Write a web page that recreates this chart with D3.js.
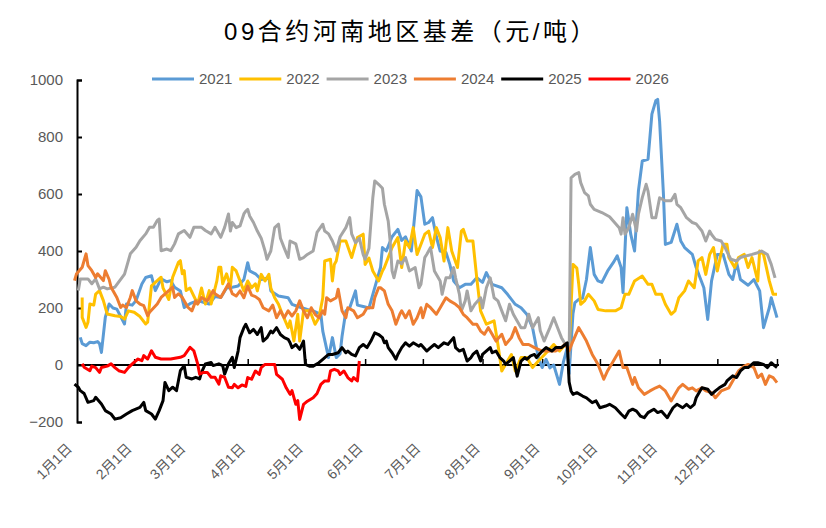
<!DOCTYPE html>
<html>
<head>
<meta charset="utf-8">
<script src="https://cdn.jsdelivr.net/npm/d3@7"></script>
<style>
  body { margin: 0; background: #fff; }
  text { font-family: "Liberation Sans", "Noto Sans CJK SC", sans-serif; }
</style>
</head>
<body>
<div id="chart"></div>
<script>
// day of year (0 = 1月1日), basis (元/吨)
var years = ["2021", "2022", "2023", "2024", "2025", "2026"];
var colors = ["#5B9BD5", "#FFC000", "#A5A5A5", "#ED7D31", "#000000", "#FF0000"];
var monthLabels = ["1月1日", "2月1日", "3月1日", "4月1日", "5月1日", "6月1日",
  "7月1日", "8月1日", "9月1日", "10月1日", "11月1日", "12月1日"];
var monthDays = [0, 31, 59, 90, 120, 151, 181, 212, 243, 273, 304, 334];
var yTicks = [-200, 0, 200, 400, 600, 800, 1000];

var s2021 = [[3,97],[4,75],[6,68],[8,80],[10,78],[12,82],[13,75],[14,44],[16,167],[18,214],[20,200],[22,196],[26,144],[27,214],[30,210],[32,226],[35,284],[37,307],[40,313],[42,261],[45,302],[48,292],[50,296],[52,273],[55,260],[57,202],[60,215],[64,226],[67,220],[70,214],[73,240],[76,237],[79,270],[82,273],[85,277],[88,300],[90,359],[91,330],[94,320],[97,300],[101,306],[102,260],[106,242],[111,236],[113,213],[118,201],[121,195],[124,190],[128,178],[129,119],[132,26],[134,96],[136,26],[138,40],[139,100],[141,190],[143,201],[146,260],[147,210],[150,205],[153,200],[157,295],[159,342],[160,412],[162,400],[165,450],[168,476],[170,437],[172,450],[175,400],[178,612],[180,590],[182,494],[184,500],[186,517],[188,450],[190,400],[193,395],[195,353],[197,295],[200,271],[203,283],[206,283],[209,306],[212,290],[214,324],[217,283],[222,271],[225,248],[229,213],[232,201],[235,178],[238,131],[241,26],[243,-9],[245,20],[247,-10],[249,0],[252,-68],[254,10],[256,60],[257,-30],[259,180],[260,219],[262,230],[264,235],[266,300],[268,412],[270,318],[272,295],[274,290],[277,330],[280,360],[282,383],[284,342],[285,254],[287,552],[289,459],[291,400],[293,611],[295,716],[298,722],[300,880],[302,927],[303,932],[304,856],[306,599],[307,423],[310,430],[313,494],[315,435],[317,412],[321,388],[323,342],[327,271],[329,160],[331,295],[334,388],[337,388],[340,318],[342,300],[344,360],[346,300],[350,280],[353,300],[356,260],[358,131],[361,201],[362,236],[364,190],[365,166]];

var s2022 = [[4,237],[4,167],[6,132],[7,150],[8,214],[10,210],[11,249],[13,261],[15,226],[17,179],[21,173],[24,170],[26,161],[28,190],[31,185],[34,170],[37,144],[38,150],[40,278],[42,290],[45,308],[46,270],[49,230],[51,308],[54,360],[55,366],[56,320],[57,331],[58,261],[60,270],[64,214],[66,270],[68,214],[70,261],[71,214],[74,296],[75,343],[76,343],[77,285],[79,320],[81,275],[82,343],[84,330],[86,295],[88,260],[90,295],[92,271],[94,285],[95,260],[97,318],[99,295],[101,318],[102,270],[104,236],[106,213],[108,178],[111,131],[112,155],[114,84],[116,178],[117,84],[119,190],[122,190],[123,178],[125,143],[127,166],[129,236],[130,365],[133,371],[134,295],[135,353],[136,365],[138,435],[141,435],[144,377],[147,447],[150,459],[151,353],[153,375],[155,330],[158,295],[160,330],[161,342],[163,377],[165,412],[168,447],[170,342],[172,435],[174,412],[176,482],[178,388],[182,459],[184,470],[186,412],[188,482],[190,447],[192,365],[194,482],[196,400],[199,342],[201,470],[202,476],[204,435],[207,435],[209,306],[211,190],[214,143],[218,155],[220,72],[222,-21],[225,14],[227,37],[229,-21],[232,26],[235,26],[238,-9],[241,14],[246,49],[249,72],[252,49],[255,72],[257,60],[259,353],[261,340],[262,283],[263,213],[265,225],[267,248],[270,225],[272,195],[276,190],[281,190],[284,201],[286,248],[288,248],[291,295],[295,312],[298,283],[300,283],[302,248],[305,248],[307,213],[310,178],[312,190],[314,236],[317,260],[319,295],[322,271],[324,365],[326,377],[328,318],[330,388],[332,412],[334,330],[337,424],[339,424],[340,377],[343,342],[345,377],[348,388],[350,342],[352,377],[355,295],[356,400],[358,388],[361,295],[363,248],[365,248]];

var s2023 = [[2,261],[3,302],[7,302],[9,285],[11,302],[13,267],[15,273],[17,267],[21,273],[26,319],[29,390],[32,413],[34,436],[37,460],[39,483],[41,483],[43,507],[44,512],[45,401],[48,407],[50,401],[52,425],[54,460],[57,472],[60,448],[62,483],[66,483],[68,472],[71,460],[73,483],[76,448],[78,483],[80,530],[81,470],[82,500],[84,482],[86,488],[88,530],[89,540],[90,546],[91,523],[93,500],[95,470],[97,445],[99,400],[100,371],[102,400],[104,482],[106,494],[107,445],[109,410],[111,377],[112,435],[115,425],[117,371],[119,377],[121,388],[124,400],[126,465],[129,494],[130,470],[132,460],[134,435],[136,400],[138,450],[141,482],[143,517],[144,460],[146,429],[148,445],[150,387],[151,371],[153,410],[155,587],[156,646],[158,634],[160,620],[161,564],[163,505],[164,435],[165,330],[166,306],[168,365],[170,355],[172,377],[174,330],[177,342],[179,271],[180,283],[182,377],[183,388],[185,412],[187,330],[190,295],[191,248],[193,306],[195,306],[197,342],[198,306],[200,248],[201,190],[203,225],[204,260],[206,190],[208,213],[211,236],[212,200],[214,271],[216,306],[218,236],[220,225],[222,190],[224,155],[226,213],[228,178],[232,131],[234,131],[236,178],[238,131],[241,166],[242,120],[244,84],[247,131],[249,166],[251,131],[253,96],[254,84],[256,61],[257,26],[258,657],[260,669],[262,675],[263,640],[265,605],[267,593],[268,564],[270,546],[274,535],[278,520],[283,482],[284,459],[285,517],[286,459],[288,482],[290,529],[292,470],[293,529],[295,587],[297,634],[298,610],[300,517],[302,517],[303,552],[304,587],[307,576],[310,576],[312,599],[313,564],[315,552],[318,517],[321,500],[323,495],[326,470],[328,435],[330,470],[331,458],[333,441],[336,435],[338,412],[341,371],[344,365],[346,377],[349,383],[352,388],[355,394],[357,400],[360,388],[362,353],[364,306]];

var s2024 = [[0,296],[1,319],[4,343],[6,390],[7,349],[9,331],[11,307],[12,320],[15,296],[16,331],[18,300],[19,273],[22,237],[24,202],[25,210],[27,202],[29,237],[30,261],[32,225],[34,214],[36,208],[38,173],[39,185],[43,214],[45,237],[49,261],[51,273],[52,237],[54,250],[56,237],[59,202],[61,190],[63,225],[64,214],[66,237],[69,225],[72,261],[73,250],[76,237],[79,273],[80,285],[82,250],[84,242],[86,260],[88,236],[90,277],[92,245],[94,240],[96,230],[98,201],[101,190],[103,210],[105,166],[107,190],[109,166],[111,190],[113,172],[115,190],[117,225],[119,190],[121,166],[123,201],[125,178],[127,166],[129,190],[130,178],[131,236],[133,225],[136,236],[137,266],[139,190],[141,166],[142,201],[145,190],[147,166],[150,178],[152,201],[155,201],[156,236],[158,271],[159,271],[161,260],[163,213],[165,190],[167,143],[169,178],[170,190],[172,166],[174,190],[176,143],[178,166],[180,201],[181,166],[183,213],[185,201],[188,178],[190,201],[193,236],[195,225],[198,213],[200,201],[202,178],[204,166],[207,143],[209,143],[211,119],[213,108],[215,131],[217,108],[219,84],[222,108],[224,72],[227,96],[229,131],[231,96],[233,72],[236,72],[239,61],[243,49],[246,49],[250,49],[253,61],[255,73],[257,50],[259,84],[262,131],[264,108],[266,84],[269,37],[271,14],[272,2],[275,-50],[277,-20],[280,14],[283,49],[285,-9],[287,-9],[290,-68],[291,-44],[293,-80],[296,-103],[299,-91],[302,-80],[304,-74],[307,-91],[310,-126],[312,-103],[314,-80],[316,-68],[319,-85],[321,-80],[323,-91],[326,-80],[328,-91],[331,-97],[333,-115],[336,-91],[340,-80],[343,-44],[345,-21],[348,-4],[350,2],[353,-9],[355,-44],[357,-32],[359,-68],[361,-38],[363,-44],[365,-62]];

var s2025 = [[0,-67],[2,-78],[3,-90],[5,-100],[7,-131],[10,-125],[11,-113],[14,-137],[16,-160],[19,-172],[21,-190],[24,-185],[27,-172],[30,-160],[34,-149],[36,-131],[37,-160],[40,-172],[42,-190],[44,-160],[46,-125],[47,-61],[49,-90],[51,-78],[53,-90],[54,-55],[55,-20],[57,-2],[58,-43],[61,-49],[63,-43],[65,-49],[66,-26],[68,4],[71,9],[72,-2],[75,4],[77,-2],[78,-32],[80,4],[82,27],[83,-9],[85,49],[86,96],[88,131],[89,143],[91,113],[93,125],[95,107],[97,131],[98,84],[100,96],[102,119],[103,113],[105,131],[107,107],[109,96],[111,90],[112,78],[113,61],[115,72],[117,55],[119,84],[120,2],[122,-4],[124,-4],[127,8],[129,20],[132,37],[134,37],[137,43],[139,61],[141,43],[142,49],[144,37],[146,32],[148,61],[150,72],[152,61],[154,84],[156,113],[158,107],[160,96],[161,78],[162,84],[163,61],[165,43],[167,20],[168,37],[170,61],[172,78],[174,66],[176,78],[179,66],[180,72],[183,49],[185,61],[187,72],[189,61],[192,78],[194,72],[197,96],[198,61],[200,49],[202,55],[204,14],[206,26],[207,37],[209,49],[211,14],[212,37],[216,61],[217,43],[219,49],[221,26],[223,14],[224,2],[226,14],[228,26],[230,-39],[232,14],[234,26],[235,20],[237,32],[239,37],[240,26],[243,49],[245,61],[248,49],[250,61],[253,61],[255,72],[256,78],[257,-60],[258,-91],[259,-103],[261,-97],[264,-109],[266,-115],[269,-132],[271,-126],[273,-150],[276,-144],[278,-138],[281,-150],[284,-172],[286,-185],[288,-162],[290,-155],[292,-162],[294,-179],[296,-185],[298,-167],[301,-155],[303,-167],[305,-162],[308,-185],[309,-173],[311,-150],[313,-138],[316,-150],[318,-138],[320,-150],[322,-138],[323,-115],[325,-91],[326,-80],[329,-85],[331,-103],[333,-91],[335,-80],[338,-68],[339,-56],[342,-38],[344,-44],[346,-21],[348,-9],[350,-9],[353,8],[355,8],[358,2],[360,-9],[362,8],[364,-4],[365,-9]];

var s2026 = [[4,4],[5,-8],[8,-20],[9,-4],[11,-9],[13,-26],[14,-9],[17,-4],[19,4],[21,-9],[23,-20],[26,-26],[28,-9],[30,4],[33,21],[35,15],[36,33],[38,21],[40,50],[42,27],[45,21],[50,21],[55,27],[57,33],[60,62],[62,50],[64,4],[65,-32],[67,-26],[69,-26],[71,-43],[73,-43],[75,-67],[76,-38],[78,-43],[80,-78],[82,-80],[83,-68],[85,-80],[87,-70],[89,-75],[90,-44],[92,-50],[94,-21],[96,-33],[97,-9],[99,2],[102,2],[104,2],[105,-33],[108,-50],[110,-80],[112,-103],[113,-90],[115,-138],[116,-125],[117,-191],[119,-138],[121,-127],[124,-115],[126,-100],[128,-68],[130,-56],[132,-56],[133,-21],[135,-15],[137,-21],[138,-33],[140,-21],[142,-44],[144,-56],[145,-44],[147,-56],[148,14]];

var seriesData = [s2021, s2022, s2023, s2024, s2025, s2026];

var svgWidth = 826;
var svgHeight = 528;

var svg = d3.select("#chart")
  .append("svg")
  .attr("width", svgWidth)
  .attr("height", svgHeight);

// scales
var x = d3.scaleLinear().domain([0, 365]).range([74.5, 777]);
var y = d3.scaleLinear().domain([-200, 1000]).range([422, 80]);
var axisX = 77;

// title
svg.append("text")
  .attr("x", 411)
  .attr("y", 40)
  .attr("text-anchor", "middle")
  .attr("font-size", 24)
  .attr("letter-spacing", 3.5)
  .attr("fill", "#000")
  .text("09合约河南地区基差（元/吨）");

// y axis
var leftAxis = d3.axisLeft(y).tickValues(yTicks).tickSize(-5).tickPadding(14)
  .tickFormat(d => d < 0 ? "\u2212" + Math.abs(d) : d);
var yAxis = svg.append("g")
  .attr("transform", `translate(${axisX}, 0)`)
  .call(leftAxis);
yAxis.select(".domain").attr("stroke", "#000").attr("stroke-width", 2);
yAxis.selectAll(".tick line").attr("stroke", "#000").attr("stroke-width", 2);
yAxis.selectAll(".tick text")
  .attr("font-size", 15)
  .attr("fill", "#595959")
  .attr("font-family", "Liberation Sans, sans-serif");

// x axis on the zero line, ticks pointing up
var bottomAxis = d3.axisBottom(x).tickValues(monthDays.concat([365])).tickSize(-6).tickFormat("");
var xAxis = svg.append("g")
  .attr("transform", `translate(0, ${y(0)})`)
  .call(bottomAxis);
xAxis.select(".domain").attr("d", `M${axisX},0H${x(365) + 2}`).attr("stroke", "#000").attr("stroke-width", 2);
xAxis.selectAll(".tick line").attr("stroke", "#000").attr("stroke-width", 1.5)
  .filter(d => d === 0).remove();

// rotated month labels
svg.append("g").selectAll("text")
  .data(monthLabels)
  .enter()
  .append("text")
  .attr("transform", (d, i) => `translate(${x(monthDays[i]) - 5}, 446) rotate(-45)`)
  .attr("text-anchor", "end")
  .attr("dy", "0.35em")
  .attr("font-size", 14)
  .attr("fill", "#595959")
  .text(d => d);

// series lines
var line = d3.line()
  .x(d => x(d[0]))
  .y(d => y(d[1]));

svg.append("g").selectAll("path")
  .data(seriesData)
  .enter()
  .append("path")
  .attr("d", d => line(d))
  .attr("fill", "none")
  .attr("stroke", (d, i) => colors[i])
  .attr("stroke-width", 3)
  .attr("stroke-linejoin", "round");

// legend
var legend = svg.append("g").attr("transform", "translate(152, 79)");
var items = legend.selectAll("g")
  .data(years)
  .enter()
  .append("g")
  .attr("transform", (d, i) => `translate(${i * 87.3}, 0)`);
items.append("line")
  .attr("x1", 0).attr("x2", 42)
  .attr("stroke", (d, i) => colors[i])
  .attr("stroke-width", 3);
items.append("text")
  .attr("x", 47)
  .attr("dy", "0.35em")
  .attr("font-size", 15)
  .attr("fill", "#595959")
  .text(d => d);
</script>
</body>
</html>
